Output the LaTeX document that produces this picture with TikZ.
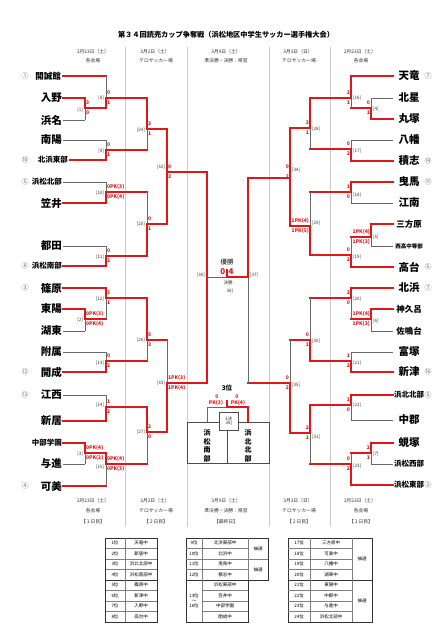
\documentclass[tikz,border=0pt]{standalone}
\usepackage{fontspec}
\newfontfamily\jp{Noto Sans CJK JP}
\definecolor{rd}{RGB}{222,24,24}
\definecolor{gy}{RGB}{105,105,105}
\definecolor{dv}{RGB}{205,205,205}
% match: x, ytop, ybot, yout, xout, topstyle, botstyle, outstyle
\newcommand\mt[8]{\draw[#6] (#1,#2) -- (#1,#4); \draw[#7] (#1,#4) -- (#1,#3); \draw[#8] (#1,#4) -- (#5,#4);}
% scores left side / right side: x, yout, top, bottom
\newcommand\scL[4]{\node[sc,anchor=west] at (#1+0.8,#2-5) {#3}; \node[sc,anchor=west] at (#1+0.8,#2+5) {#4};}
\newcommand\scR[4]{\node[sc,anchor=east] at (#1-0.8,#2-5) {#3}; \node[sc,anchor=east] at (#1-0.8,#2+5) {#4};}
\newcommand\lbL[3]{\node[lb,anchor=east] at (#1-1.5,#2) {[#3]};}
\newcommand\lbR[3]{\node[lb,anchor=west] at (#1+1.5,#2) {[#3]};}
\begin{document}
\begin{tikzpicture}[x=1pt,y=-1pt,
 rl/.style={draw=rd,line width=1.4pt,line cap=rect},
 gl/.style={draw=gy,line width=0.6pt},
 tm/.style={font=\jp\bfseries\fontsize{10.5}{10.5}\selectfont,inner sep=0pt},
 tm3/.style={font=\jp\bfseries\fontsize{8.5}{8.5}\selectfont,inner sep=0pt},
 tm4/.style={font=\jp\bfseries\fontsize{7.5}{7.5}\selectfont,inner sep=0pt},
 sd/.style={font=\jp\fontsize{7}{7}\selectfont,text=black!55,inner sep=0pt},
 sc/.style={font=\jp\bfseries\fontsize{5}{5}\selectfont,text=rd,inner sep=0.2pt},
 lb/.style={font=\jp\fontsize{4.5}{5}\selectfont,text=black!80,inner sep=0.3pt},
 hd/.style={font=\jp\fontsize{4.8}{5}\selectfont,text=black!80,inner sep=0pt},
 tb/.style={font=\jp\fontsize{4.5}{5}\selectfont,inner sep=0pt},
 dvl/.style={draw=dv,line width=0.5pt}]
\useasboundingbox (0,0) rectangle (443,640);
\fill[white] (0,0) rectangle (443,640);
% title
\node[font=\jp\bfseries\fontsize{7.2}{8}\selectfont] (title) at (226,35) {第３４回読売カップ争奪戦（浜松地区中学生サッカー選手権大会）};
% column dividers
\foreach \xx in {125,187,269,330} \draw[dvl] (\xx,47) -- (\xx,527);
% headers top
\node[hd] (h1a) at (93,52) {2月23日（土）};   \node[hd] (h1b) at (93,61) {各会場};
\node[hd] (h2a) at (155,52) {3月2日（土）};   \node[hd] (h2b) at (156,61) {テロサッカー場};
\node[hd] (h3a) at (226,52) {3月9日（土）};   \node[hd] (h3b) at (226,61) {準決勝・決勝：県営};
\node[hd] (h4a) at (298,52) {3月3日（日）};   \node[hd] (h4b) at (299,61) {テロサッカー場};
\node[hd] (h5a) at (360,52) {2月23日（土）};  \node[hd] (h5b) at (361,61) {各会場};
% headers bottom
\node[hd] (b1a) at (93,501) {2月23日（土）};  \node[hd] (b1b) at (93,511) {各会場};  \node[hd] (b1c) at (93,522) {【１日目】};
\node[hd] (b2a) at (155,501) {3月2日（土）};  \node[hd] (b2b) at (156,511) {テロサッカー場};  \node[hd] (b2c) at (156,522) {【２日目】};
\node[hd] (b3a) at (226,501) {3月9日（土）};  \node[hd] (b3b) at (226,511) {準決勝・決勝：県営};  \node[hd] (b3c) at (226,522) {【最終日】};
\node[hd] (b4a) at (298,501) {3月3日（日）};  \node[hd] (b4b) at (299,511) {テロサッカー場};  \node[hd] (b4c) at (299,522) {【２日目】};
\node[hd] (b5a) at (360,501) {2月23日（土）}; \node[hd] (b5b) at (361,511) {各会場};  \node[hd] (b5c) at (361,522) {【１日目】};

% ---------------- LEFT TEAMS ----------------
\node[tm3,anchor=east] (L1) at (61,76) {開誠館};
\node[tm,anchor=east] (L2) at (62,98) {入野};
\node[tm,anchor=east] (L3) at (62,120) {浜名};
\node[tm,anchor=east] (L4) at (62,140) {南陽};
\node[tm4,anchor=east] (L5) at (68,160) {北浜東部};
\node[tm4,anchor=east] (L6) at (62,182) {浜松北部};
\node[tm,anchor=east] (L7) at (62,203) {笠井};
\node[tm,anchor=east] (L8) at (62,246) {都田};
\node[tm4,anchor=east] (L9) at (62,266) {浜松南部};
\node[tm,anchor=east] (L10) at (62,288) {篠原};
\node[tm,anchor=east] (L11) at (62,309) {東陽};
\node[tm,anchor=east] (L12) at (62,331) {湖東};
\node[tm,anchor=east] (L13) at (62,352) {附属};
\node[tm,anchor=east] (L14) at (62,372) {開成};
\node[tm,anchor=east] (L15) at (62,395) {江西};
\node[tm,anchor=east] (L16) at (62,421) {新居};
\node[tm4,anchor=east] (L17) at (62,443) {中部学園};
\node[tm,anchor=east] (L18) at (62,464) {与進};
\node[tm,anchor=east] (L19) at (62,486) {可美};
\node[sd] (s1) at (25,76) {①};  \node[sd] (s2) at (25,160) {⑩};
\node[sd] (s3) at (25,182) {⑤};  \node[sd] (s4) at (25,266) {⑧};
\node[sd] (s5) at (25,288) {③};  \node[sd] (s6) at (25,372) {⑫};
\node[sd] (s7) at (25,395) {⑬};  \node[sd] (s8) at (25,486) {④};
% left leaf lines
\draw[gl] (63,120) -- (85,120);  \draw[gl] (63,140) -- (106,140);
\draw[gl] (63,182) -- (106,182); \draw[gl] (63,246) -- (106,246);
\draw[gl] (63,331) -- (85,331);  \draw[gl] (63,352) -- (106,352);
\draw[gl] (63,395) -- (106,395); \draw[gl] (63,464) -- (85,464);
\draw[rl] (63,76) -- (106,76);   \draw[rl] (63,98) -- (85,98);
\draw[rl] (70,160) -- (106,160); \draw[rl] (63,203) -- (106,203);
\draw[rl] (63,266) -- (106,266); \draw[rl] (63,288) -- (106,288);
\draw[rl] (63,309) -- (85,309);  \draw[rl] (63,372) -- (106,372);
\draw[rl] (63,421) -- (106,421); \draw[rl] (63,443) -- (85,443);
\draw[rl] (63,486) -- (106,486);
% left matches
\mt{85}{98}{120}{108}{106}{rl}{gl}{rl}     \scL{85}{108}{3}{0}   \lbL{85}{110}{1}
\mt{106}{76}{108}{98}{147}{gl}{rl}{rl}     \scL{106}{98}{0}{1}   \lbL{106}{98}{8}
\mt{106}{140}{160}{150}{147}{gl}{rl}{rl}   \scL{106}{150}{0}{1}  \lbL{106}{151}{9}
\mt{147}{98}{150}{129}{167}{rl}{gl}{rl}    \scL{147}{129}{3}{1}  \lbL{147}{130}{24}
\mt{106}{182}{203}{192}{147}{gl}{rl}{rl}   \scL{106}{192}{0PK(3)}{0PK(4)} \lbL{106}{193}{10}
\mt{106}{246}{266}{256}{147}{gl}{rl}{rl}   \scL{106}{256}{0}{2}  \lbL{106}{257}{11}
\mt{147}{192}{256}{224}{167}{gl}{rl}{rl}   \scL{147}{224}{0}{1}  \lbL{147}{224}{25}
\mt{167}{129}{224}{172}{207}{rl}{rl}{rl}   \scL{167}{172}{0}{3}  \lbL{167}{167}{32}
\mt{85}{309}{331}{319}{106}{rl}{gl}{rl}    \scL{85}{319}{0PK(3)}{0PK(4)} \lbL{85}{320}{2}
\mt{106}{288}{319}{298}{147}{rl}{gl}{rl}   \scL{106}{298}{5}{1}  \lbL{106}{299}{12}
\mt{106}{352}{372}{361}{147}{gl}{rl}{rl}   \scL{106}{361}{0}{2}  \lbL{106}{363}{13}
\mt{147}{298}{361}{340}{167}{rl}{gl}{rl}   \scL{147}{340}{5}{3}  \lbL{147}{340}{26}
\mt{106}{395}{421}{407}{147}{gl}{rl}{rl}   \scL{106}{407}{1}{2}  \lbL{106}{405}{14}
\mt{85}{443}{464}{453}{106}{rl}{gl}{rl}    \scL{85}{453}{0PK(4)}{0PK(2)} \lbL{85}{454}{3}
\mt{106}{453}{486}{464}{147}{rl}{gl}{rl}   \scL{106}{464}{0PK(4)}{0PK(3)} \lbL{106}{467}{15}
\mt{147}{407}{464}{432}{167}{rl}{gl}{rl}   \scL{147}{432}{2}{0}  \lbL{147}{432}{27}
\mt{167}{340}{432}{383}{207}{gl}{rl}{rl}   \scL{167}{383}{1PK(3)}{1PK(4)} \lbL{167}{383}{33}
\mt{207}{172}{383}{277}{227}{rl}{rl}{gl}   \lbL{207}{275}{36}

% ---------------- RIGHT TEAMS ----------------
\node[tm] (R1) at (409,76) {天竜};
\node[tm] (R2) at (409,98) {北星};
\node[tm] (R3) at (409,119) {丸塚};
\node[tm] (R4) at (409,140) {八幡};
\node[tm] (R5) at (409,161) {積志};
\node[tm] (R6) at (409,182) {曳馬};
\node[tm] (R7) at (409,203) {江南};
\node[tm3] (R8) at (409,224) {三方原};
\node[font=\jp\bfseries\fontsize{5.5}{5.5}\selectfont,inner sep=0pt] (R9) at (409,246) {西高中等部};
\node[tm] (R10) at (409,267) {高台};
\node[tm] (R11) at (409,288) {北浜};
\node[tm3] (R12) at (409,309) {神久呂};
\node[tm3] (R13) at (409,331) {佐鳴台};
\node[tm] (R14) at (409,352) {富塚};
\node[tm] (R15) at (409,372) {新津};
\node[tm4] (R16) at (409,395) {浜北北部};
\node[tm] (R17) at (409,420) {中郡};
\node[tm] (R18) at (409,443) {蜆塚};
\node[tm4] (R19) at (409,464) {浜松西部};
\node[tm4] (R20) at (409,485) {浜松東部};
\node[sd] (t1) at (428,76) {⑦};  \node[sd] (t2) at (428,161) {⑭};
\node[sd] (t3) at (428,182) {⑪};  \node[sd] (t4) at (428,267) {⑥};
\node[sd] (t5) at (428,288) {⑦};  \node[sd] (t6) at (428,372) {⑯};
\node[sd] (t7) at (428,395) {⑤};  \node[sd] (t8) at (428,485) {②};
% right leaf lines
\draw[gl] (393,98) -- (371,98);   \draw[gl] (393,140) -- (351,140);
\draw[gl] (393,203) -- (351,203); \draw[gl] (393,246) -- (371,246);
\draw[gl] (393,331) -- (371,331); \draw[gl] (393,352) -- (351,352);
\draw[gl] (393,420) -- (351,420); \draw[gl] (393,464) -- (371,464);
\draw[rl] (393,76) -- (351,76);   \draw[rl] (393,119) -- (371,119);
\draw[rl] (393,161) -- (351,161); \draw[rl] (393,182) -- (351,182);
\draw[rl] (393,224) -- (371,224); \draw[rl] (393,267) -- (351,267);
\draw[rl] (393,288) -- (351,288); \draw[rl] (393,309) -- (371,309);
\draw[rl] (393,372) -- (351,372); \draw[rl] (393,395) -- (351,395);
\draw[rl] (393,443) -- (371,443); \draw[rl] (393,485) -- (351,485);
% right matches
\mt{371}{98}{119}{108}{351}{gl}{rl}{rl}    \scR{371}{108}{0}{1}  \lbR{371}{109}{4}
\mt{351}{76}{108}{98}{310}{rl}{gl}{rl}     \scR{351}{98}{2}{1}   \lbR{351}{98}{16}
\mt{351}{140}{161}{149}{310}{gl}{rl}{rl}   \scR{351}{149}{0}{2}  \lbR{351}{151}{17}
\mt{310}{98}{149}{128}{290}{rl}{gl}{rl}    \scR{310}{128}{3}{1}  \lbR{310}{129}{28}
\mt{351}{182}{203}{192}{310}{rl}{gl}{rl}   \scR{351}{192}{1}{0}  \lbR{351}{195}{18}
\mt{371}{224}{246}{237}{351}{rl}{gl}{rl}   \scR{371}{237}{1PK(4)}{1PK(3)} \lbR{371}{237}{5}
\mt{351}{237}{267}{255}{310}{gl}{rl}{rl}   \scR{351}{255}{0}{2}  \lbR{351}{257}{19}
\mt{310}{192}{255}{226}{290}{gl}{rl}{rl}   \scR{310}{226}{1PK(4)}{1PK(5)} \lbR{310}{223}{29}
\mt{290}{128}{226}{178}{248}{rl}{rl}{rl}   \scR{290}{172}{0}{2}  \lbR{290}{170}{34}
\mt{371}{309}{331}{319}{351}{rl}{gl}{rl}   \scR{371}{319}{1PK(4)}{1PK(3)} \lbR{371}{321}{6}
\mt{351}{288}{319}{298}{310}{rl}{gl}{rl}   \scR{351}{298}{2}{0}  \lbR{351}{299}{20}
\mt{351}{352}{372}{361}{310}{gl}{rl}{rl}   \scR{351}{361}{1}{2}  \lbR{351}{363}{21}
\mt{310}{298}{361}{340}{290}{gl}{rl}{rl}   \scR{310}{340}{0}{1}  \lbR{310}{341}{30}
\mt{351}{395}{420}{405}{310}{rl}{gl}{rl}   \scR{351}{405}{1}{0}  \lbR{351}{405}{22}
\mt{371}{443}{464}{453}{351}{rl}{gl}{rl}   \scR{371}{453}{2}{1}  \lbR{371}{454}{7}
\mt{351}{453}{485}{464}{310}{gl}{rl}{rl}   \scR{351}{464}{0}{2}  \lbR{351}{466}{23}
\mt{310}{405}{464}{433}{290}{rl}{gl}{rl}   \scR{310}{433}{2}{1}  \lbR{310}{437}{31}
\mt{290}{340}{433}{383}{248}{gl}{rl}{rl}   \scR{290}{383}{0}{2}  \lbR{290}{385}{35}
\mt{248}{178}{383}{277}{227}{rl}{gl}{rl}   \lbR{248}{275}{37}

% ---------------- FINAL ----------------
\draw[rl] (227,270) -- (227,277);
\node[font=\jp\fontsize{6.5}{7}\selectfont,inner sep=0pt] (win) at (227,262) {優勝};
\node[font=\jp\bfseries\fontsize{8}{8}\selectfont,text=rd,inner sep=0pt,anchor=east] (f0) at (225.5,272) {0};
\node[font=\jp\bfseries\fontsize{8}{8}\selectfont,text=rd,inner sep=0pt,anchor=west] (f4) at (228.5,272) {4};
\node[lb] (fl1) at (228,283) {決勝};
\node[lb] (fl2) at (230,291) {38]};

% ---------------- 3rd place ----------------
\node[font=\jp\bfseries\fontsize{6.5}{7}\selectfont,inner sep=0pt] (third) at (227,388) {3位};
\draw[gl] (207,407) -- (227,407);
\draw[rl] (227,407) -- (248,407);
\draw[rl] (227,401) -- (227,407);
\draw[gl] (207,407) -- (207,422);
\draw[rl] (248,407) -- (248,422);
\node[sc] (q0a) at (217,397) {0};  \node[sc] (q0b) at (216,403) {PK(3)};
\node[sc] (q1a) at (237,397) {0};  \node[sc] (q1b) at (238,403) {PK(4)};
\draw[draw=black!70,line width=0.5pt,fill=white] (187,422) rectangle (269,463);
\draw[draw=black!70,line width=0.5pt] (227,430) -- (227,463);
\draw[draw=black!70,line width=0.5pt,fill=white] (219,412) rectangle (238,430);
\node[lb,align=center] (tl) at (228.5,421) {3決\\[-1pt]\ 38]};
\node[font=\jp\bfseries\fontsize{7}{8.5}\selectfont,align=center,inner sep=0pt] (b3l) at (207,446) {浜\\松\\南\\部};
\node[font=\jp\bfseries\fontsize{7}{8.5}\selectfont,align=center,inner sep=0pt] (b3r) at (248,446) {浜\\北\\北\\部};

% ---------------- TABLES ----------------
% table 1
\foreach \i [evaluate=\i as \yy using 538+10.5*\i] in {1,2,3,5,6,7} \draw[gray,line width=0.4pt] (105,\yy) -- (157,\yy);
\draw[black!80,line width=0.9pt] (105,580) -- (157,580);
\draw[black!80,line width=0.6pt] (105,538) rectangle (157,622);
\draw[gray,line width=0.4pt] (125,538) -- (125,622);
\foreach \r/\n [count=\i from 0] in {1位/天竜中,2位/新居中,3位/浜北北部中,4位/浜松南部中,5位/篠原中,6位/新津中,7位/入野中,8位/高台中}{
  \node[tb] at (115,543.25+10.5*\i) {\r};
  \node[tb] at (141,543.25+10.5*\i) {\n};}
% table 2
\draw[black!80,line width=0.6pt] (186,538) -- (268,538) -- (268,580) -- (248,580) -- (248,622) -- (186,622) -- cycle;
\foreach \i [evaluate=\i as \yy using 538+10.5*\i] in {1,3} \draw[gray,line width=0.4pt] (186,\yy) -- (248,\yy);
\draw[gray,line width=0.4pt] (186,559) -- (268,559);
\foreach \i [evaluate=\i as \yy using 538+10.5*\i] in {5,6,7} \draw[gray,line width=0.4pt] (202,\yy) -- (248,\yy);
\draw[black!80,line width=0.9pt] (186,580) -- (268,580);
\draw[gray,line width=0.4pt] (202,538) -- (202,622);
\draw[gray,line width=0.4pt] (248,538) -- (248,580);
\foreach \r/\n [count=\i from 0] in {9位/北浜東部中,10位/北浜中,11位/曳馬中,12位/積志中}{
  \node[tb] at (194,543.25+10.5*\i) {\r};
  \node[tb] at (225,543.25+10.5*\i) {\n};}
\foreach \n [count=\i from 4] in {浜松東部中,笠井中,中部学園,開成中}
  \node[tb] at (225,543.25+10.5*\i) {\n};
\node[tb,align=center] (t213) at (194,601) {13位\\〜\\16位};
\node[tb] (ch1) at (258,548.5) {抽選};
\node[tb] (ch2) at (258,569.5) {抽選};
% table 3
\draw[black!80,line width=0.6pt] (288,538) rectangle (372,622);
\foreach \i [evaluate=\i as \yy using 538+10.5*\i] in {1,2,3,5,6,7} \draw[gray,line width=0.4pt] (288,\yy) -- (352,\yy);
\draw[black!80,line width=0.9pt] (288,580) -- (372,580);
\draw[gray,line width=0.4pt] (310,538) -- (310,622);
\draw[gray,line width=0.4pt] (352,538) -- (352,622);
\foreach \r/\n [count=\i from 0] in {17位/三方原中,18位/可美中,19位/八幡中,20位/湖東中,21位/東陽中,22位/中郡中,23位/与進中,24位/浜松北部中}{
  \node[tb] at (299,543.25+10.5*\i) {\r};
  \node[tb] at (331,543.25+10.5*\i) {\n};}
\node[tb] (ch3) at (362,559) {抽選};
\node[tb] (ch4) at (362,601) {抽選};
\end{tikzpicture}
\end{document}
